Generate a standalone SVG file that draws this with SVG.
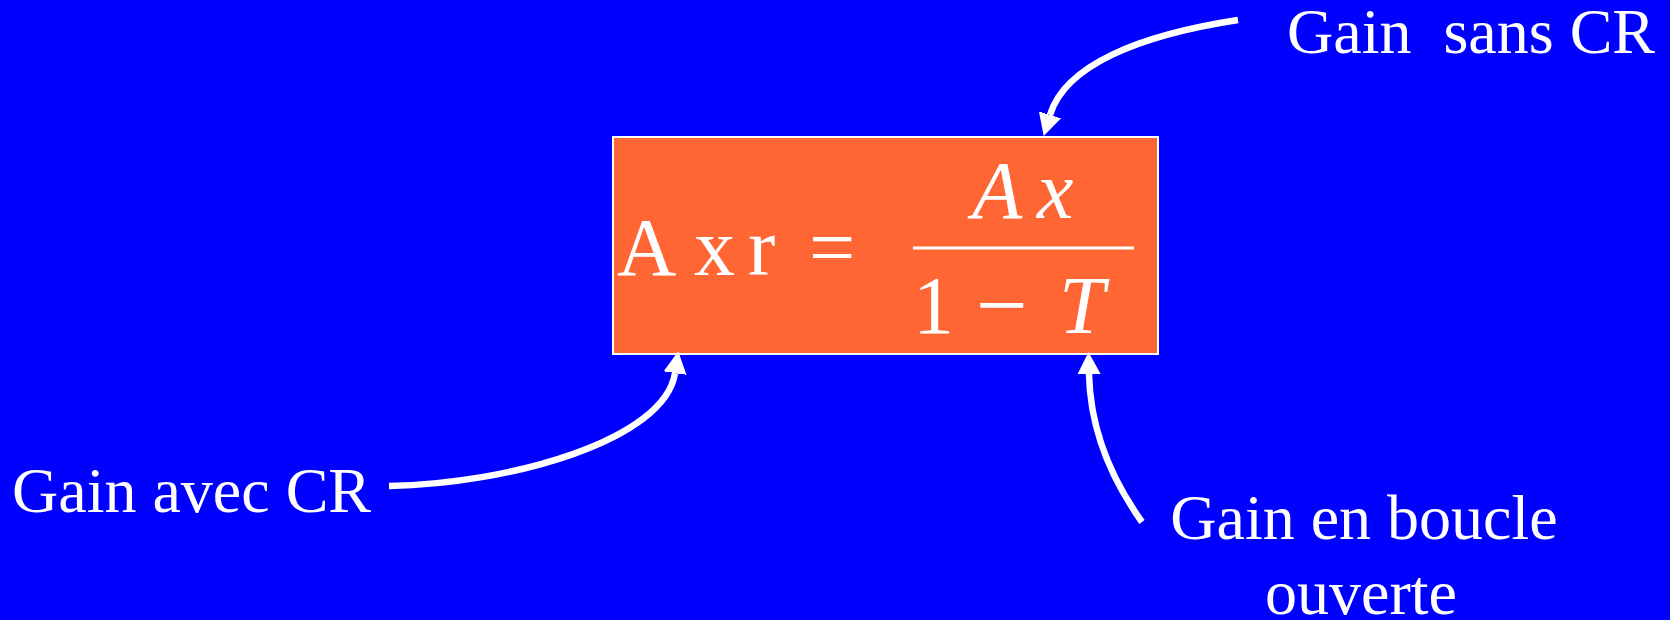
<svg xmlns="http://www.w3.org/2000/svg" width="1670" height="620" viewBox="0 0 1670 620">
<style>
.lbl{font-family:"Liberation Serif","Times New Roman",serif;font-size:64px;fill:#fff}
.eq{font-family:"Liberation Serif","Times New Roman",serif;font-size:82px;fill:#fff}
.it{font-style:italic}
.conn{fill:none;stroke:#fff;stroke-width:6.5}
</style>
<defs>
<marker id="ah" markerUnits="userSpaceOnUse" viewBox="0 -15 30 30" markerWidth="30" markerHeight="30" refX="0" refY="0" orient="auto">
<path d="M-1,-12 L22,0 L-1,12 Z" fill="#fff"/>
</marker>
</defs>
<rect width="1670" height="620" fill="#0000FF"/>
<g id="formula">
<rect x="613" y="137" width="545" height="217" fill="#FF6633" stroke="#fff" stroke-width="2"/>
<text class="eq" x="617" y="275">A</text>
<text class="eq" x="694" y="275">x</text>
<text class="eq" x="748" y="275">r</text>
<text class="eq" x="809" y="275">=</text>
<text class="eq it" x="972" y="218">A</text>
<text class="eq it" x="1037" y="218">x</text>
<rect x="913" y="246.5" width="221" height="3" fill="#fff"/>
<text class="eq" x="913" y="333">1</text>
<text class="eq" x="976" y="336" style="font-size:92px">−</text>
<text class="eq it" x="1059" y="333">T</text>
</g>
<g id="label-sans">
<text class="lbl" x="1287" y="53" xml:space="preserve">Gain  sans CR</text>
</g>
<g id="label-avec">
<text class="lbl" x="12" y="512">Gain avec CR</text>
</g>
<g id="label-boucle">
<text class="lbl" x="1364" y="539" text-anchor="middle">Gain en boucle</text>
<text class="lbl" x="1361" y="614" text-anchor="middle">ouverte</text>
</g>
<g id="connectors">
<path class="conn" d="M1238,20 C1140,35 1065,65 1050,115" marker-end="url(#ah)"/>
<path class="conn" d="M389,486 C510,484 665,440 675,373" marker-end="url(#ah)"/>
<path class="conn" d="M1142,522 C1105,470 1090,420 1089,374" marker-end="url(#ah)"/>
</g>
</svg>
